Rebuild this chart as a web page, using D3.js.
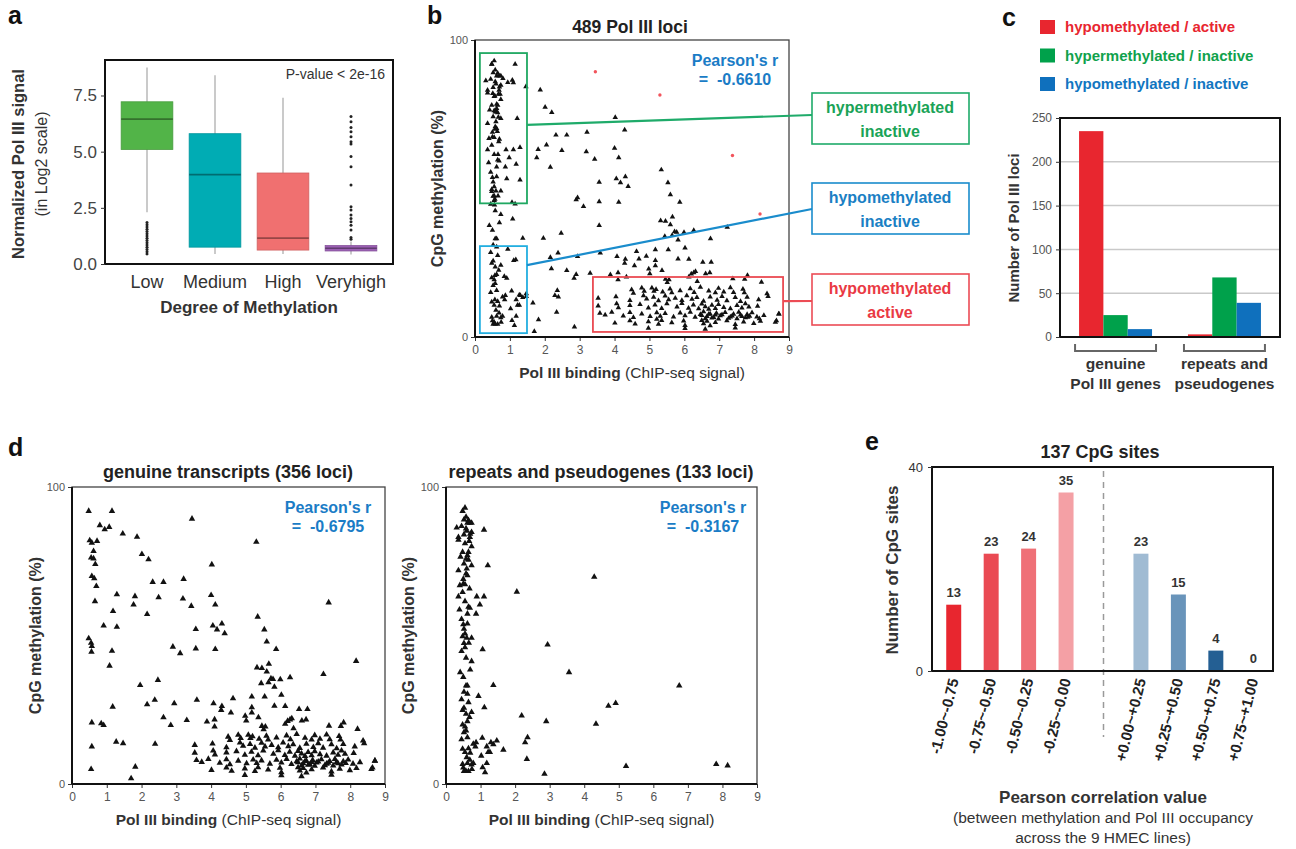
<!DOCTYPE html>
<html><head><meta charset="utf-8">
<script src="https://cdn.jsdelivr.net/npm/d3@7"></script>
<style>
body{margin:0;background:#fff;}
svg{font-family:"Liberation Sans",Arial,Helvetica,sans-serif;}
</style></head><body>
<svg id="fig" width="1296" height="849"></svg>
<script>
// ================= DATA =================
// panel a: boxplot of Pol III signal by methylation degree
const methylCategories = ["Low","Medium","High","Veryhigh"];
const whiskerLow  = [2.3, 0.45, 0.45, 0.42];
const quartile1   = [5.1, 0.75, 0.62, 0.58];
const medians     = [6.45, 3.98, 1.15, 0.70];
const quartile3   = [7.22, 5.80, 4.05, 0.82];
const whiskerHigh = [8.75, 8.40, 7.40, 1.00];
const outliersLow = [0.45,0.55,0.65,0.75,0.85,0.95,1.05,1.15,1.25,1.35,1.45,1.55,1.65,1.75,1.85];
const outliersVeryhigh = [1.10,1.18,1.51,1.73,1.88,2.03,2.18,2.40,2.55,3.52,4.33,4.78,5.34,5.44,5.66,5.89,6.08,6.33,6.56];
const signalTicks = [0, 2.5, 5, 7.5];

// panel d (left): genuine transcripts  [Pol III binding, CpG methylation %]
const genuineLoci = [
[0.48,91.9],[1.15,91.9],[3.45,89.3],[0.80,87.1],[0.94,85.7],[1.07,86.5],[1.46,84.3],[1.87,83.2],[0.51,82.0],[0.57,81.2],[0.72,81.8],[5.30,81.5],[0.62,78.4],[0.55,76.2],[0.62,75.9],[0.67,74.0],[2.01,77.4],[2.20,75.6],[4.02,73.9],[0.57,70.0],[0.64,69.2],[0.70,66.6],[2.32,68.0],[2.63,68.0],[3.21,69.0],[1.29,63.8],[1.81,63.2],[2.49,62.8],[3.19,62.4],[4.00,63.6],[0.66,61.5],[1.77,60.4],[3.43,59.9],[4.12,60.4],[7.38,61.1],[1.18,58.2],[2.16,57.2],[5.34,56.3],[0.91,53.3],[1.29,52.9],[4.05,53.3],[4.17,52.0],[4.31,54.0],[4.39,50.7],[3.56,52.1],[5.53,52.0],[0.48,49.0],[0.55,47.5],[0.57,46.4],[0.56,44.5],[1.15,44.8],[2.90,46.2],[3.11,44.0],[3.56,45.6],[4.12,45.4],[5.60,47.9],[5.87,45.4],[1.08,39.8],[8.17,41.4],[5.32,39.2],[5.46,39.0],[5.60,37.8],[5.66,40.4],[5.72,35.5],[5.78,35.3],[5.44,33.9],[5.65,34.2],[5.82,32.7],[5.99,35.2],[6.27,35.9],[7.23,37.0],[1.96,33.3],[2.47,35.0],[2.38,28.3],[2.16,26.8],[2.94,27.1],[1.17,26.0],[3.59,28.3],[4.07,27.1],[4.31,26.2],[4.29,24.9],[4.63,28.8],[5.17,29.4],[5.54,29.4],[5.17,25.8],[5.82,26.3],[6.13,26.2],[6.53,25.2],[6.77,25.2],[6.02,30.0],[0.57,20.7],[0.84,20.4],[0.91,19.8],[2.63,22.4],[2.84,19.8],[3.30,21.5],[3.88,21.0],[4.10,21.7],[4.10,19.3],[4.57,24.0],[4.98,22.9],[5.01,21.3],[5.17,24.0],[5.36,22.4],[5.46,19.5],[5.56,19.3],[5.51,18.4],[6.13,20.2],[6.20,21.2],[6.27,21.7],[6.32,22.1],[6.37,18.7],[6.61,21.3],[6.73,21.7],[7.39,19.6],[7.73,19.5],[7.81,20.7],[0.57,12.6],[1.27,14.2],[1.47,13.7],[2.39,13.5],[0.55,5.0],[1.82,5.8],[1.70,1.9],[8.21,18.5],[8.40,13.7],[8.64,5.5],[8.71,7.8],
[4.49,15.9],[4.54,14.8],[4.78,16.5],[4.85,15.4],[5.07,16.5],[5.13,15.4],[5.19,16.0],[5.38,15.2],[5.59,16.2],[5.64,14.9],[5.88,15.6],[6.17,16.3],[6.28,15.0],[6.46,16.8],[6.70,15.5],[6.89,14.9],[6.98,16.4],[7.13,15.2],[7.32,16.6],[7.41,15.0],[7.68,16.1],[7.72,14.9],[8.37,14.6],
[3.53,13.1],[4.04,13.6],[4.44,12.3],[4.83,13.9],[4.92,12.8],[5.12,13.4],[5.26,12.2],[5.45,13.8],[5.55,12.6],[5.74,13.1],[5.93,12.3],[6.07,13.9],[6.22,12.7],[6.36,13.3],[6.55,12.1],[6.74,13.5],[6.94,12.4],[7.08,13.7],[7.22,12.2],[7.46,13.3],[7.61,12.0],[7.80,13.4],[8.13,12.6],
[3.53,10.5],[4.06,11.2],[4.11,9.9],[4.44,10.6],[4.73,11.0],[4.97,9.8],[5.16,10.8],[5.35,9.6],[5.50,11.2],[5.79,10.1],[5.93,11.3],[6.12,9.7],[6.26,10.8],[6.41,9.5],[6.50,11.1],[6.60,10.2],[6.70,9.4],[6.79,10.7],[6.89,9.6],[6.98,11.0],[7.13,10.0],[7.32,9.5],[7.51,10.6],[7.65,9.8],[7.75,11.2],[7.85,10.1],[8.10,10.4],
[3.58,8.0],[3.73,7.4],[3.92,8.4],[4.25,7.1],[4.44,8.3],[4.54,6.6],[4.78,7.8],[5.02,6.9],[5.21,8.2],[5.31,7.0],[5.45,7.9],[5.69,6.8],[5.88,8.1],[6.02,7.2],[6.17,8.4],[6.31,6.7],[6.46,7.6],[6.55,8.5],[6.65,6.9],[6.74,7.8],[6.84,6.6],[6.92,8.0],[7.03,7.2],[7.17,8.3],[7.32,6.8],[7.41,7.7],[7.56,8.4],[7.65,6.9],[7.80,7.6],[7.94,8.2],[8.08,6.8],[8.28,7.3],[8.71,7.8],
[6.50,7.3],[6.60,6.2],[6.70,7.7],[6.79,6.4],[6.89,7.4],[6.98,6.1],[7.08,7.5],[7.27,6.3],[7.37,7.1],[7.51,6.2],[7.61,7.4],[7.75,6.5],[7.87,7.0],
[4.01,4.7],[4.44,5.5],[4.59,4.4],[4.97,5.2],[5.26,4.3],[5.35,5.6],[5.64,4.8],[5.98,5.4],[6.02,3.9],[6.50,5.6],[6.55,4.5],[6.65,5.3],[6.74,3.8],[6.89,4.9],[7.22,5.5],[7.46,4.2],[7.70,5.1],[7.99,4.6],[8.18,5.3],[8.61,5.0],
[4.97,3.0],[6.02,2.9],[6.60,2.6],[7.46,3.1]
];

// panel d (right): repeats and pseudogenes
const repeatLoci = [
[0.55,93.0],[0.48,91.9],[0.58,89.9],[0.52,89.0],[0.65,88.8],[0.69,87.9],[0.62,87.9],[0.74,87.9],[0.31,86.3],[0.58,86.0],[0.74,84.8],[0.52,84.0],[0.36,83.1],[0.36,82.2],[0.69,83.1],[0.67,81.8],[1.10,85.6],[0.74,80.0],[0.48,78.1],[0.65,78.1],[0.58,75.8],[0.65,75.5],[0.52,74.2],[0.74,73.6],[1.21,73.6],[0.36,71.9],[0.58,70.8],[0.62,70.2],[0.40,66.9],[0.50,67.4],[0.55,67.2],[0.48,64.6],[0.36,63.1],[0.89,63.1],[1.10,63.1],[0.98,60.4],[0.65,59.6],[0.69,59.3],[0.39,58.7],[0.62,57.3],[0.87,57.3],[2.05,64.7],[4.29,69.7],
[0.50,53.7],[0.52,52.2],[0.55,50.6],[0.48,49.7],[0.60,49.2],[0.74,49.2],[0.52,47.4],[0.45,44.7],[1.06,45.3],[0.58,42.5],[0.74,41.3],[2.94,46.9],[0.41,37.6],[3.56,37.6],[0.58,33.1],[0.62,33.1],[1.37,33.3],[6.75,33.1],[0.62,30.3],[0.94,29.6],[0.65,27.5],[0.48,24.9],[0.52,25.6],[0.74,24.2],[0.58,23.6],[1.11,25.8],[4.70,26.3],[4.91,27.2],[2.19,23.0],[2.90,21.1],[4.34,20.2],[0.48,20.0],[0.55,19.3],[0.62,21.1],[0.52,17.4],[0.62,15.7],[0.79,13.5],[0.87,14.0],[0.85,12.6],[0.48,11.8],[0.55,10.7],[1.18,12.6],[1.22,10.7],[1.27,10.7],[1.37,13.3],[1.47,14.6],[1.66,11.5],[2.29,14.0],[2.36,15.7],[2.34,8.4],[0.69,8.1],[0.62,7.0],[0.74,6.5],[0.79,7.0],[0.48,6.7],[0.52,4.3],[0.58,4.3],[0.65,4.3],[1.06,5.6],[1.18,7.0],[1.13,3.9],[2.85,3.4],[5.21,6.0],[7.82,6.7],[8.15,6.2],
[0.45,86.8],[0.60,85.2],[0.70,84.2],[0.55,81.0],[0.62,77.0],[0.42,76.5],[0.60,72.5],[0.50,69.0],[0.68,65.8],[0.55,61.5],[0.45,55.5],[0.62,54.0],[0.55,46.0],[0.70,38.5],[0.50,36.0],[0.45,28.5],[0.68,22.5],[0.58,18.0],[0.45,15.0],[0.70,10.5],[0.60,9.0],[0.50,5.5],[0.75,5.0],[0.65,12.0],[0.52,31.0],[0.66,47.5],[1.02,9.5],[1.05,15.5],[1.30,14.0]
];

// panel b: all 489 loci (genuine + repeats); four loci are highlighted in red there
const allLoci = genuineLoci.concat(repeatLoci);
const redLoci = [[3.45,89.3],[5.30,81.5],[7.38,61.1],[8.17,41.4]];
const pearsonAll = "-0.6610", pearsonGenuine = "-0.6795", pearsonRepeats = "-0.3167";
const bindingTicks = [0,1,2,3,4,5,6,7,8,9];
const methylTicks = [0,100];
// annotated regions of panel b (data units: binding x, methylation y)
const regionHyper  = {x: [0.14, 1.49], y: [45.0, 95.6]};
const regionHypoIn = {x: [0.14, 1.49], y: [1.3, 30.6]};
const regionHypoAc = {x: [3.38, 8.83], y: [1.7, 20.2]};

// panel c: grouped bars
const locusGroups = ["genuine|Pol III genes", "repeats and|pseudogenes"];
const statusSeries = ["hypomethylated / active", "hypermethylated / inactive", "hypomethylated / inactive"];
const hypoActiveCounts   = [235, 3];
const hyperInactiveCounts = [25, 68];
const hypoInactiveCounts = [9, 39];
const countTicks = [0,50,100,150,200,250];

// panel e: correlation histogram
const corrBins = ["-1.00~-0.75","-0.75~-0.50","-0.50~-0.25","-0.25~-0.00","+0.00~+0.25","+0.25~+0.50","+0.50~+0.75","+0.75~+1.00"];
const cpgCounts = [13, 23, 24, 35, 23, 15, 4, 0];
const cpgTicks = [0, 40];

// ================= DRAWING =================
const svg = d3.select("#fig");
const C = {red:"#e8262f", green:"#0aa14b", blue:"#1472bd", txt:"#222"};

function txt(g, s, x, y, o = {}) {
  const t = g.append("text").attr("x", x).attr("y", y).text(s)
    .attr("font-size", o.size || 14).attr("fill", o.fill || C.txt)
    .attr("font-weight", o.bold ? "bold" : "normal")
    .attr("text-anchor", o.anchor || "start");
  if (o.rotate) t.attr("transform", `rotate(${o.rotate},${x},${y})`);
  return t;
}
function styleAxis(ax, size, fill) {
  ax.attr("color", fill);
  ax.selectAll("text").attr("font-size", size).attr("fill", fill).attr("font-family", null);
  ax.selectAll("line").attr("stroke", "#333");
  ax.select(".domain").remove();
}

// panel letters
[["a",8,24],["b",427,24],["c",1002,26],["d",8,456],["e",865,450]].forEach(([s,x,y]) =>
  txt(svg, s, x, y, {size: 25, bold: true, fill: "#111"}));

// ---------- panel a ----------
(function(){
  const g = svg.append("g");
  const F = {x0:105, x1:393, y0:60, y1:264};
  const x = d3.scaleBand().domain(methylCategories).range([113,385]).paddingInner(0.24).paddingOuter(0.12);
  const y = d3.scaleLinear().domain([0, 9.08]).range([F.y1, F.y0]);
  const fills = ["#52b448", "#00acb4", "#f07070", "#9b5fb3"];
  const stats = methylCategories.map((c,i) => ({c, lo:whiskerLow[i], q1:quartile1[i], med:medians[i], q3:quartile3[i], hi:whiskerHigh[i], fill:fills[i]}));
  const cx = d => x(d.c) + x.bandwidth()/2;
  g.selectAll(".wh").data(stats).join("line").attr("x1", cx).attr("x2", cx)
    .attr("y1", d => y(d.lo)).attr("y2", d => y(d.hi)).attr("stroke", "#bdbdbd").attr("stroke-width", 1.6);
  g.selectAll(".bx").data(stats).join("rect").attr("x", d => x(d.c)).attr("width", x.bandwidth())
    .attr("y", d => y(d.q3)).attr("height", d => y(d.q1) - y(d.q3))
    .attr("fill", d => d.fill).attr("stroke", d => d3.color(d.fill).darker(0.4)).attr("stroke-width", 0.8);
  g.selectAll(".md").data(stats).join("line").attr("x1", d => x(d.c)).attr("x2", d => x(d.c) + x.bandwidth())
    .attr("y1", d => y(d.med)).attr("y2", d => y(d.med)).attr("stroke", d => d3.color(d.fill).darker(1.3)).attr("stroke-width", 1.6);
  const outs = outliersLow.map(v => ({c:"Low", v})).concat(outliersVeryhigh.map(v => ({c:"Veryhigh", v})));
  g.selectAll(".ol").data(outs).join("circle").attr("cx", d => x(d.c) + x.bandwidth()/2).attr("cy", d => y(d.v))
    .attr("r", 1.5).attr("fill", "#222");
  g.append("rect").attr("x", F.x0).attr("y", F.y0).attr("width", F.x1-F.x0).attr("height", F.y1-F.y0)
    .attr("fill", "none").attr("stroke", "#111").attr("stroke-width", 2);
  const ay = g.append("g").attr("transform", `translate(${F.x0},0)`)
    .call(d3.axisLeft(y).tickValues(signalTicks).tickFormat(d3.format(".1f")).tickSize(4).tickPadding(4));
  styleAxis(ay, 17, "#444");
  const ax = g.append("g").attr("transform", `translate(0,${F.y1})`).call(d3.axisBottom(x).tickSize(0).tickPadding(11));
  styleAxis(ax, 18, "#333");
  txt(g, "P-value < 2e-16", 385, 79, {size: 14, anchor: "end", fill: "#333"});
  txt(g, "Degree of Methylation", 249, 313, {size: 17, bold: true, anchor: "middle", fill: "#333"});
  txt(g, "Normalized Pol III signal", 24, 164, {size: 16.5, bold: true, anchor: "middle", rotate: -90, fill: "#333"});
  txt(g, "(in Log2 scale)", 47, 164, {size: 16, anchor: "middle", rotate: -90, fill: "#333"});
})();

// ---------- scatter helper ----------
function scatterPanel(F, loci, symSize, pearson, pearsonX, ylabX) {
  const g = svg.append("g");
  const x = d3.scaleLinear().domain([0, 9]).range([F.x0, F.x1]);
  const y = d3.scaleLinear().domain([0, 100]).range([F.y1, F.y0]);
  g.append("rect").attr("x", F.x0).attr("y", F.y0).attr("width", F.x1-F.x0).attr("height", F.y1-F.y0)
    .attr("fill", "none").attr("stroke", "#444").attr("stroke-width", 1.3);
  const sym = d3.symbol(d3.symbolTriangle, symSize);
  g.selectAll(".pt").data(loci).join("path").attr("d", sym)
    .attr("transform", d => `translate(${x(d[0])},${y(d[1])})`).attr("fill", "#111");
  const ax = g.append("g").attr("transform", `translate(0,${F.y1})`)
    .call(d3.axisBottom(x).tickValues(bindingTicks).tickSize(4).tickPadding(4));
  styleAxis(ax, 12, "#555");
  const ay = g.append("g").attr("transform", `translate(${F.x0},0)`)
    .call(d3.axisLeft(y).tickValues(methylTicks).tickSize(4).tickPadding(3));
  styleAxis(ay, 11, "#555");
  g.append("line").attr("x1", F.x0).attr("x2", F.x1).attr("y1", F.y1).attr("y2", F.y1).attr("stroke", "#111").attr("stroke-width", 2);
  g.append("line").attr("x1", F.x0).attr("x2", F.x0).attr("y1", F.y0).attr("y2", F.y1).attr("stroke", "#111").attr("stroke-width", 2);
  txt(g, "Pearson's r", pearsonX, F.y0 + 26, {size: 16, bold: true, anchor: "middle", fill: "#1a7cc6"});
  txt(g, "=\u00a0\u00a0" + pearson, pearsonX, F.y0 + 45, {size: 16, bold: true, anchor: "middle", fill: "#1a7cc6"});
  const xl = txt(g, "", (F.x0 + F.x1)/2, F.y1 + 41, {size: 15.5, anchor: "middle", fill: "#333"});
  xl.append("tspan").attr("font-weight", "bold").text("Pol III binding");
  xl.append("tspan").text(" (ChIP-seq signal)");
  txt(g, "CpG methylation (%)", ylabX, (F.y0 + F.y1)/2, {size: 16, bold: true, anchor: "middle", rotate: -90, fill: "#333"});
  return {g, x, y};
}

// ---------- panel b ----------
(function(){
  const F = {x0:475, x1:789, y0:40, y1:337};
  const isRed = d => redLoci.some(r => r[0] === d[0] && r[1] === d[1]);
  const blackLoci = allLoci.filter(d => !isRed(d));
  const {g, x, y} = scatterPanel(F, blackLoci, 13, pearsonAll, 735, 443);
  g.selectAll(".rp").data(redLoci).join("circle").attr("cx", d => x(d[0])).attr("cy", d => y(d[1]))
    .attr("r", 1.7).attr("fill", "#f2545c");
  txt(g, "489 Pol III loci", 630, 33, {size: 17.5, bold: true, anchor: "middle", fill: "#222"});
  const regs = [
    {r: regionHyper,  col: "#1fa862"},
    {r: regionHypoIn, col: "#22aee0"},
    {r: regionHypoAc, col: "#ea4a52"}];
  regs.forEach(({r, col}) => g.append("rect").attr("x", x(r.x[0])).attr("y", y(r.y[1]))
    .attr("width", x(r.x[1]) - x(r.x[0])).attr("height", y(r.y[0]) - y(r.y[1]))
    .attr("fill", "none").attr("stroke", col).attr("stroke-width", 1.8));
  // callouts
  const callouts = [
    {l1:"hypermethylated", l2:"inactive", top:93,  col:"#1aa357", box:"#1fab6a", from:[x(regionHyper.x[1]), y(71.4)], to:115},
    {l1:"hypomethylated",  l2:"inactive", top:183, col:"#1a80c4", box:"#1a8ccc", from:[x(regionHypoIn.x[1]), y(24.2)], to:209},
    {l1:"hypomethylated",  l2:"active",   top:274, col:"#ea3a44", box:"#ec4c55", from:[x(regionHypoAc.x[1]), y(12.1)], to:301}];
  callouts.forEach(c => {
    g.append("line").attr("x1", c.from[0]).attr("y1", c.from[1]).attr("x2", 812).attr("y2", c.to)
      .attr("stroke", c.box).attr("stroke-width", 2.2);
    g.append("rect").attr("x", 812).attr("y", c.top).attr("width", 157).attr("height", 51)
      .attr("fill", "#fff").attr("stroke", c.box).attr("stroke-width", 1.6);
    txt(g, c.l1, 890, c.top + 20, {size: 16, bold: true, anchor: "middle", fill: c.col});
    txt(g, c.l2, 890, c.top + 44, {size: 16, bold: true, anchor: "middle", fill: c.col});
  });
})();

// ---------- panel c ----------
(function(){
  const g = svg.append("g");
  const F = {x0:1060, x1:1280, y0:118, y1:337};
  const y = d3.scaleLinear().domain([0, 250]).range([F.y1, F.y0]);
  const xg = d3.scaleBand().domain(locusGroups).range([F.x0, F.x1]).paddingInner(0.33).paddingOuter(0.175);
  const xs = d3.scaleBand().domain(statusSeries).range([0, xg.bandwidth()]);
  const cols = [C.red, "#00a14b", "#0f70bd"];
  const vals = [hypoActiveCounts, hyperInactiveCounts, hypoInactiveCounts];
  g.selectAll(".gl").data(countTicks.slice(1, -1)).join("line").attr("x1", F.x0).attr("x2", F.x1)
    .attr("y1", d => y(d)).attr("y2", d => y(d)).attr("stroke", "#c9c9c9").attr("stroke-width", 1.5);
  const bars = [];
  locusGroups.forEach((grp, gi) => statusSeries.forEach((s, si) => bars.push({grp, s, v: vals[si][gi], col: cols[si]})));
  g.selectAll(".bar").data(bars).join("rect").attr("x", d => xg(d.grp) + xs(d.s)).attr("width", xs.bandwidth())
    .attr("y", d => y(d.v)).attr("height", d => y(0) - y(d.v)).attr("fill", d => d.col);
  g.append("rect").attr("x", F.x0).attr("y", F.y0).attr("width", F.x1-F.x0).attr("height", F.y1-F.y0)
    .attr("fill", "none").attr("stroke", "#111").attr("stroke-width", 2);
  const ay = g.append("g").attr("transform", `translate(${F.x0},0)`)
    .call(d3.axisLeft(y).tickValues(countTicks).tickSize(4).tickPadding(4));
  styleAxis(ay, 12, "#555");
  locusGroups.forEach(grp => {
    const a = xg(grp) - 4, b = xg(grp) + xg.bandwidth() + 4;
    g.append("path").attr("d", `M${a},344V351H${b}V344`).attr("fill", "none").attr("stroke", "#666").attr("stroke-width", 2);
    const [l1, l2] = grp.split("|");
    const cx = xg(grp) + xg.bandwidth()/2;
    txt(g, l1, cx, 369, {size: 15.5, bold: true, anchor: "middle", fill: "#333"});
    txt(g, l2, cx, 389, {size: 15.5, bold: true, anchor: "middle", fill: "#333"});
  });
  txt(g, "Number of Pol III loci", 1019, 228, {size: 15, bold: true, anchor: "middle", rotate: -90, fill: "#333"});
  const legCols = [C.red, "#10a24c", "#1276c1"];
  statusSeries.forEach((s, i) => {
    g.append("rect").attr("x", 1040).attr("y", 20 + i*28.5).attr("width", 15).attr("height", 14).attr("fill", cols[i]);
    txt(g, s, 1065, 32 + i*28.5, {size: 15, bold: true, fill: legCols[i]});
  });
})();

// ---------- panel d ----------
(function(){
  const L = scatterPanel({x0:72, x1:385, y0:487, y1:784}, genuineLoci, 18, pearsonGenuine, 328, 41);
  txt(L.g, "genuine transcripts (356 loci)", 228, 478, {size: 18, bold: true, anchor: "middle", fill: "#222"});
  const R = scatterPanel({x0:446, x1:757, y0:487, y1:784}, repeatLoci, 18, pearsonRepeats, 703, 414);
  txt(R.g, "repeats and pseudogenes (133 loci)", 601, 478, {size: 18, bold: true, anchor: "middle", fill: "#222"});
})();

// ---------- panel e ----------
(function(){
  const g = svg.append("g");
  const F = {x0:932, x1:1273, y0:467, y1:671};
  const domain = corrBins.slice(0, 4).concat(["gap"], corrBins.slice(4));
  const x = d3.scaleBand().domain(domain).range([935, 1272]).paddingInner(0.6).paddingOuter(0.3);
  const y = d3.scaleLinear().domain([0, 40]).range([F.y1, F.y0]);
  const cols = ["#e8262f","#ea4a53","#ef7077","#f4a0a5","#a0bbd3","#6994ba","#245f93","#245f93"];
  const data = corrBins.map((b, i) => ({b, v: cpgCounts[i], col: cols[i]}));
  g.selectAll(".bar").data(data).join("rect").attr("x", d => x(d.b)).attr("width", x.bandwidth())
    .attr("y", d => y(d.v)).attr("height", d => y(0) - y(d.v)).attr("fill", d => d.col);
  g.selectAll(".vl").data(data).join("text").attr("x", d => x(d.b) + x.bandwidth()/2).attr("y", d => y(d.v) - 8)
    .attr("text-anchor", "middle").attr("font-size", 13).attr("font-weight", "bold").attr("fill", "#333").text(d => d.v);
  const gx = x("gap") + x.bandwidth()/2;
  g.append("line").attr("x1", gx).attr("x2", gx).attr("y1", F.y0 + 4).attr("y2", 737)
    .attr("stroke", "#9a9a9a").attr("stroke-width", 1.5).attr("stroke-dasharray", "6,5");
  g.append("rect").attr("x", F.x0).attr("y", F.y0).attr("width", F.x1-F.x0).attr("height", F.y1-F.y0)
    .attr("fill", "none").attr("stroke", "#111").attr("stroke-width", 2);
  const ay = g.append("g").attr("transform", `translate(${F.x0},0)`)
    .call(d3.axisLeft(y).tickValues(cpgTicks).tickSize(4).tickPadding(5));
  styleAxis(ay, 13, "#333");
  data.forEach(d => {
    const cx = x(d.b) + x.bandwidth()/2 + 5;
    txt(g, d.b, cx, 680, {size: 15, bold: true, anchor: "end", rotate: -76, fill: "#222"});
  });
  txt(g, "137 CpG sites", 1100, 458, {size: 18, bold: true, anchor: "middle", fill: "#222"});
  txt(g, "Number of CpG sites", 898, 570, {size: 17, bold: true, anchor: "middle", rotate: -90, fill: "#333"});
  txt(g, "Pearson correlation value", 1103, 803, {size: 17, bold: true, anchor: "middle", fill: "#333"});
  txt(g, "(between methylation and Pol III occupancy", 1103, 823, {size: 15.5, anchor: "middle", fill: "#333"});
  txt(g, "across the 9 HMEC lines)", 1103, 843, {size: 15.5, anchor: "middle", fill: "#333"});
})();
</script>
</body></html>
